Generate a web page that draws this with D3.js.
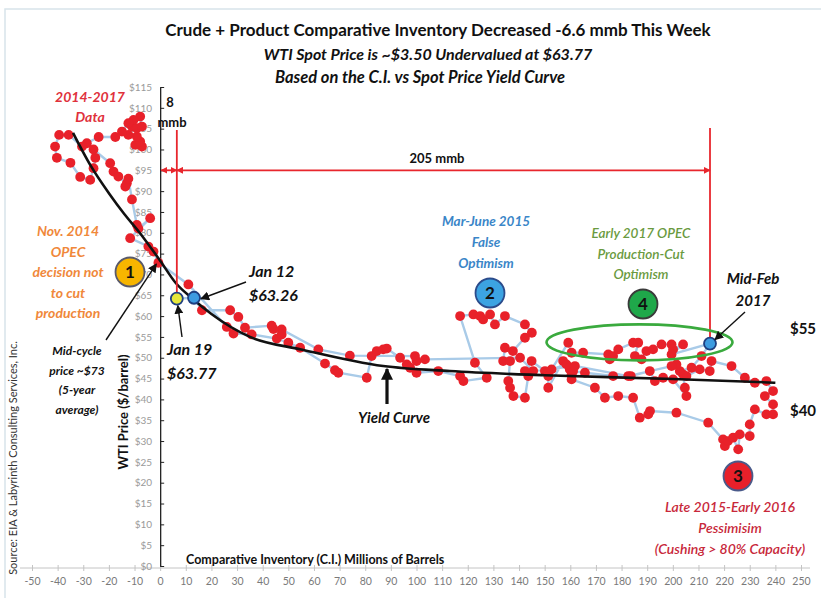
<!DOCTYPE html>
<html><head><meta charset="utf-8">
<script src="https://cdn.jsdelivr.net/npm/d3@7"></script>
<style>body{margin:0;background:#fff} svg{display:block} text{font-family:Lato,"Open Sans",sans-serif}</style>
</head><body><svg id="c" width="821" height="598"></svg>
<script>
// ---- data: [comparative inventory (mmb), WTI price ($/bbl)] ----
const seg2014 = [[-7.1,100.7],[-9.7,101.1],[-7.8,101.9],[-9.1,103.1],[-12.4,103.5],[-11,105.5],[-9.1,105.1],[-7.1,105.5],[-7.8,107.9],[-10.4,107.1],[-12.4,106.3],[-14.9,104.3],[-17.5,103],[-24,103],[-28.6,101.5],[-30.5,100.7],[-35.7,103.5],[-39.4,103.5],[-41,100.7],[-40.3,98],[-35,96.8],[-31.2,93.4],[-27.3,92.7],[-26,95.5],[-25.3,98],[-26,100],[-19.5,96.7],[-18.2,94.7],[-16.3,93.5],[-13,91.9],[-13.6,91.1],[-12.4,93],[-11,88],[-9.1,81.9],[-8.5,81],[-3.9,83.5],[-11.7,78.7],[-4.6,76.7],[-2.6,75.5],[-0.7,72.8]];
const segLate2014 = [[11,67.6],[26,57.4],[28.6,55.8],[35.7,55.6],[45.5,54.6],[50,53.6],[54.6,52.4],[64.3,48.6],[68.2,47],[69.5,46.4],[80.6,45.2],[82.5,50.4],[84.5,51.6],[87,52],[88.4,52.2],[93.6,50],[96.2,48.4],[97.5,47.6],[100,46.4],[108.5,46.8],[117,45.6],[118.3,44.4],[127.4,45.2],[122.8,48.8]];
const seg2015 = [[117,60],[122.2,60.4],[124.8,60],[126,59.2],[128.7,60.4],[130.6,58],[134.5,60],[142.3,58],[145,56],[142.3,54.8],[137.6,51.6],[134.5,52.4],[133.8,49.2],[136.5,49.2],[135.8,44.4],[136.5,42.8],[137.8,40.8],[142.3,40.4]];
const segLate2015 = [[143.6,45.6],[142.3,46.8],[144.9,49.2],[150.1,46.8],[151.4,45.6],[151.4,42.8],[157.2,49.2],[159.8,47.2],[160.5,46],[160.5,44.8],[169.6,42.8],[173.5,40.4],[178.7,40.8],[184.5,40.4],[187.1,35.6],[190.4,36.4],[191.1,37.2],[201.4,36.8],[213.8,34.4],[219.6,30.4],[220.3,28.8],[221.5,30],[223.5,30.8],[225.5,28],[226.1,31.6],[230,31.2],[230,34],[232,37.6],[236.5,36.4],[239.1,36.4],[239.1,38.8],[235.9,40.8],[239.1,42],[236.5,44.4]];
const seg2016 = [[232,44],[228.1,45.2],[222.9,48],[215.1,49.2],[214.4,46.8],[210.5,47.2],[205.3,45.6],[204,46],[204.7,42.8],[205.3,40.8],[200.1,44.8],[196.2,45.2],[193,44.4],[191,46.8],[183.6,45.6],[176.7,45.6],[165.7,46.4],[161.1,46.8],[158.5,48.4],[152.7,47.2]];
const segEarly2017 = [[159.2,53.6],[160.5,51.2],[165,51.2],[174.8,50.8],[175.4,49.6],[176.7,50.4],[178.7,52],[184.5,53.6],[186.5,53.6],[185.2,50.4],[187.8,49.6],[189.7,51.6],[192.3,52],[195.6,53.2],[199.5,53.2],[200.1,52],[204,53.2],[199.5,50.8]];
const midFeb2017 = [214.5,53.4];
const seg2017 = [[211.2,50.4],[207.3,47.6],[202.7,46.8],[201.4,48.4],[199.5,48],[182.6,45.6],[161.8,48],[145.5,46.8],[140.4,50],[103.3,49.6],[100,49.2],[99.4,50.4],[74,50.5],[61.7,52],[47.4,56.8],[47.4,55.6],[44.2,56.9],[43.5,57.7],[33.1,57.2],[30.5,59.8],[27.3,61.4],[16.3,61.4]];
const jan12 = [13.2,64.4];
const jan19 = [6.5,64.2];
const yieldCurve = [[-34,104],[-27,96],[-20,89.5],[-14,84.5],[-8,80],[-2,75],[0,73.3],[6,68],[13,64],[20,60.5],[35,55],[55,52],[87,48],[113,46.8],[150,45.8],[200,44.9],[240,44]];
const xTicks = d3.range(-50, 251, 10);
const yTicks = d3.range(0, 116, 5);

const svg = d3.select("#c");
const x = d3.scaleLinear().domain([-50,250]).range([32,801]);
const y = d3.scaleLinear().domain([0,115]).range([566,87]);

// frame
svg.append("path").attr("d","M5,598 L5,9 L821,9").attr("fill","none").attr("stroke","#d8e4ea").attr("stroke-width",1.5);

const defs = svg.append("defs");
function marker(id, color, size){
  defs.append("marker").attr("id",id).attr("viewBox","0 0 10 10").attr("refX",9).attr("refY",5)
    .attr("markerWidth",size).attr("markerHeight",size).attr("markerUnits","userSpaceOnUse")
    .attr("orient","auto-start-reverse")
    .append("path").attr("d","M0,0 L10,5 L0,10 z").attr("fill",color);
}
marker("ab","#111",9); marker("ar","#e8262d",7); marker("abig","#111",12);

// x axis
const xa = svg.append("g").attr("transform",`translate(0,${y(0)+2})`)
  .call(d3.axisBottom(x).tickValues(xTicks).tickSize(3).tickFormat(d=>d));
xa.select(".domain").attr("stroke","#c4c4c4").attr("d",`M20,0H810`);
xa.selectAll(".tick line").attr("stroke","#c4c4c4").attr("y1",-3).attr("y2",3);
xa.selectAll(".tick text").attr("fill","#7a7a7a").attr("font-size",10.5).attr("y",10);

// y axis
const ya = svg.append("g").attr("transform",`translate(${x(0)},0)`)
  .call(d3.axisLeft(y).tickValues(yTicks).tickSize(0).tickFormat(d=>"$"+d));
ya.select(".domain").attr("stroke","#222").attr("stroke-width",1.3);
ya.selectAll(".tick line").attr("stroke","#222").attr("x1",0).attr("x2",4);
ya.selectAll(".tick text").attr("fill","#9a9a9a").attr("font-size",10).attr("x",-8);

// data path
const all = [...seg2014,...segLate2014,...seg2015,...segLate2015,...seg2016,...segEarly2017,midFeb2017,...seg2017,jan12,jan19];
const line = d3.line().x(d=>x(d[0])).y(d=>y(d[1]));
svg.append("path").datum(all).attr("d",line).attr("fill","none").attr("stroke","#a9cbe8").attr("stroke-width",2.4);
const dots = [...seg2014,...segLate2014,...seg2015,...segLate2015,...seg2016,...segEarly2017,...seg2017];
svg.append("g").selectAll("circle").data(dots).join("circle")
  .attr("cx",d=>x(d[0])).attr("cy",d=>y(d[1])).attr("r",4.9).attr("fill","#e8212a");

// yield curve
svg.append("path").datum(yieldCurve).attr("d",d3.line().x(d=>x(d[0])).y(d=>y(d[1])).curve(d3.curveMonotoneX))
  .attr("fill","none").attr("stroke","#111").attr("stroke-width",2.6);

// dimension lines
const red = "#e8262d";
svg.append("line").attr("x1",x(jan19[0])).attr("x2",x(jan19[0])).attr("y1",130).attr("y2",y(jan19[1])).attr("stroke",red).attr("stroke-width",1.8);
svg.append("line").attr("x1",x(midFeb2017[0])).attr("x2",x(midFeb2017[0])).attr("y1",128).attr("y2",y(midFeb2017[1])).attr("stroke",red).attr("stroke-width",1.8);
svg.append("line").attr("x1",x(0)+1).attr("x2",x(jan19[0])).attr("y1",y(95)).attr("y2",y(95)).attr("stroke",red).attr("stroke-width",1.8)
  .attr("marker-start","url(#ar)").attr("marker-end","url(#ar)");
svg.append("line").attr("x1",x(jan19[0])).attr("x2",x(midFeb2017[0])).attr("y1",y(95)).attr("y2",y(95)).attr("stroke",red).attr("stroke-width",1.8)
  .attr("marker-start","url(#ar)").attr("marker-end","url(#ar)");

// ellipse
svg.append("ellipse").attr("cx",x(187)).attr("cy",y(53.7)).attr("rx",93).attr("ry",18)
  .attr("fill","none").attr("stroke","#3aaa3e").attr("stroke-width",2.6);

// highlighted points
[[jan19,"#e6e83c"],[jan12,"#3d9be0"],[midFeb2017,"#3d9be0"]].forEach(([p,c])=>{
  svg.append("circle").attr("cx",x(p[0])).attr("cy",y(p[1])).attr("r",6).attr("fill",c).attr("stroke","#1f3f80").attr("stroke-width",1.8);
});

// arrows
function arrow(x1,y1,x2,y2,m="ab",w=1.4){
  svg.append("line").attr("x1",x1).attr("y1",y1).attr("x2",x2).attr("y2",y2).attr("stroke","#111").attr("stroke-width",w).attr("marker-end",`url(#${m})`);
}
arrow(106,340,x(-1.5),y(72.5));
arrow(246,282,x(jan12[0])+7,y(jan12[1])+1);
arrow(182,337,x(jan19[0])+1,y(jan19[1])+7);
arrow(745,312,x(midFeb2017[0])+5,y(midFeb2017[1])-4);
arrow(387,404,387,369,"abig",3.2);

// numbered circles
function badge(cx,cy,fill,stroke,label){
  svg.append("circle").attr("cx",cx).attr("cy",cy).attr("r",14.5).attr("fill",fill).attr("stroke",stroke).attr("stroke-width",1.8);
  svg.append("text").attr("x",cx).attr("y",cy+6).attr("text-anchor","middle").attr("font-size",17).attr("font-weight","bold").attr("fill","#111").text(label);
}
badge(130,272,"#f7b500","#5a5a6a","1");
badge(490,293,"#3ca3e2","#2b4b8b","2");
badge(643,304,"#1fa84a","#3a3a3a","4");
badge(738,476,"#e8202a","#4a5a8a","3");

// text helper
function txt(xp,yp,lines,o){
  const t = svg.append("text").attr("x",xp).attr("y",yp).attr("text-anchor",o.anchor||"middle")
    .attr("font-size",o.size).attr("font-weight",o.weight||"bold").attr("font-style",o.style||"normal").attr("fill",o.fill||"#111");
  lines.forEach((l,i)=>t.append("tspan").attr("x",xp).attr("dy",i?o.lh:0).text(l));
  return t;
}
txt(438,36,["Crude + Product Comparative Inventory Decreased -6.6 mmb This Week"],{size:17});
txt(428,60,["WTI Spot  Price is ~$3.50 Undervalued at $63.77"],{size:16,style:"italic"});
txt(420,83,["Based on the C.I. vs Spot Price Yield Curve"],{size:16.5,style:"italic"});

txt(90,102,["2014-2017","Data"],{size:14,style:"italic",fill:"#e0313b",lh:20});
txt(68,236,["Nov. 2014","OPEC","decision not","to cut","production"],{size:14,style:"italic",fill:"#f0883a",lh:20.5});
txt(77,355,["Mid-cycle","price ~$73","(5-year","average)"],{size:12,style:"italic",lh:19.5});
txt(249,277,["Jan 12","$63.26"],{size:16,style:"italic",anchor:"start",lh:24});
txt(167,355,["Jan 19","$63.77"],{size:16,style:"italic",anchor:"start",lh:24});
txt(486,226,["Mar-June 2015","False","Optimism"],{size:13.5,style:"italic",fill:"#3a86c8",lh:21});
txt(641,238,["Early 2017 OPEC","Production-Cut","Optimism"],{size:13.5,style:"italic",weight:"600",fill:"#6a9a40",lh:20.5});
txt(753,284,["Mid-Feb","2017"],{size:15,style:"italic",lh:22});
txt(803,334,["$55"],{size:15});
txt(803,416,["$40"],{size:15});
txt(394,423,["Yield Curve"],{size:15,style:"italic"});
txt(730,512,["Late 2015-Early 2016","Pessimisim","(Cushing > 80% Capacity)"],{size:14,style:"italic",weight:"600",fill:"#c8283a",lh:21});
txt(170,107,["8"],{size:13});
txt(172,127,["mmb"],{size:13});
txt(437,163,["205 mmb"],{size:13});
txt(186,564,["Comparative Inventory (C.I.) Millions of Barrels"],{size:12.5,anchor:"start"});

svg.append("text").attr("transform","translate(128,412) rotate(-90)").attr("text-anchor","middle")
  .attr("font-size",13).attr("font-weight","bold").attr("fill","#111").text("WTI Price ($/barrel)");
svg.append("text").attr("transform","translate(17,458) rotate(-90)").attr("text-anchor","middle")
  .attr("font-size",11).attr("fill","#333").text("Source:  EIA & Labyrinth Consulting Services, Inc.");
</script></body></html>
